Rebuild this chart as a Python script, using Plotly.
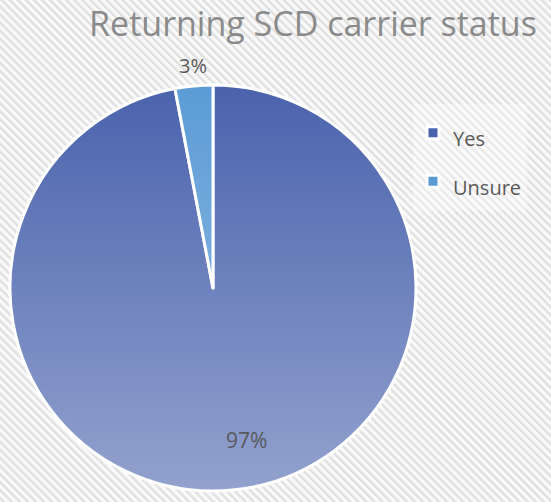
import base64
import plotly.graph_objects as go

# ---- data ----
labels = ["Yes", "Unsure"]
values = [97, 3]
title_text = "Returning SCD carrier status"

W, H = 551, 502
colors = ["#4A63AD", "#5B9BD5"]

# pie geometry (pixels)
px_left, px_top, diam = 10, 85, 406
# data-label anchor points (pixels from top-left), as placed in the reference
label_px = [(246, 440), (193, 65)]

# striped background image
stripe_svg = f'''<svg xmlns="http://www.w3.org/2000/svg" width="{W}" height="{H}">
<defs><pattern id="p" width="5.7" height="5.7" patternUnits="userSpaceOnUse" patternTransform="rotate(-45)">
<rect width="5.7" height="5.7" fill="#FAFAFA"/><rect width="2.4" height="5.7" fill="#E0E0E0"/></pattern></defs>
<rect width="{W}" height="{H}" fill="url(#p)"/></svg>'''

# vertical white gradient overlay to mimic the gradient fill of the pie
grad_svg = f'''<svg xmlns="http://www.w3.org/2000/svg" width="{diam}" height="{diam}">
<defs><linearGradient id="g" x1="0" y1="0" x2="0" y2="1">
<stop offset="0" stop-color="#FFFFFF" stop-opacity="0"/>
<stop offset="1" stop-color="#FFFFFF" stop-opacity="0.40"/></linearGradient></defs>
<circle cx="{diam/2}" cy="{diam/2}" r="{diam/2}" fill="url(#g)"/></svg>'''


def uri(svg):
    return "data:image/svg+xml;base64," + base64.b64encode(svg.encode()).decode()


# legend entries drawn at 20px inside a taller legend line (wider item spacing)
legend_labels = [f"<span style='font-size:20px'>{l}</span>" for l in labels]

fig = go.Figure(
    go.Pie(
        labels=legend_labels,
        values=values,
        sort=False,
        direction="clockwise",
        rotation=0,
        marker=dict(colors=colors, line=dict(color="white", width=3)),
        textinfo="none",
        domain=dict(
            x=[px_left / W, (px_left + diam) / W],
            y=[(H - px_top - diam) / H, (H - px_top) / H],
        ),
        hoverinfo="label+percent",
    )
)

total = sum(values)
annotations = []
for v, (lx, ly), fs in zip(values, label_px, [21, 20]):
    annotations.append(dict(
        text=f"{round(100 * v / total)}%",
        x=lx / W, y=(H - ly) / H, xref="paper", yref="paper",
        showarrow=False, xanchor="center", yanchor="middle",
        font=dict(family="Open Sans", size=fs, color="#595959"),
    ))

fig.update_layout(
    width=W,
    height=H,
    margin=dict(l=0, r=0, t=0, b=0),
    paper_bgcolor="#F4F4F4",
    plot_bgcolor="rgba(0,0,0,0)",
    title=dict(
        text=title_text,
        font=dict(family="Open Sans", size=34, color="#8A8A8A"),
        x=313 / W,
        xanchor="center",
        y=(H - 24) / H,
        yanchor="middle",
        yref="paper",
        xref="paper",
    ),
    legend=dict(
        x=413 / W,
        xanchor="left",
        y=(H - 157) / H,
        yanchor="middle",
        font=dict(family="Open Sans", size=35, color="#595959"),
        bgcolor="rgba(255,255,255,0.3)",
    ),
    showlegend=True,
    annotations=annotations,
    images=[
        dict(source=uri(stripe_svg), xref="paper", yref="paper", x=0, y=1,
             sizex=1, sizey=1, xanchor="left", yanchor="top",
             sizing="stretch", layer="below"),
        dict(source=uri(grad_svg), xref="paper", yref="paper",
             x=px_left / W, y=(H - px_top) / H, sizex=diam / W, sizey=diam / H,
             xanchor="left", yanchor="top", sizing="stretch", layer="above"),
    ],
)

fig.write_html("out.html")
